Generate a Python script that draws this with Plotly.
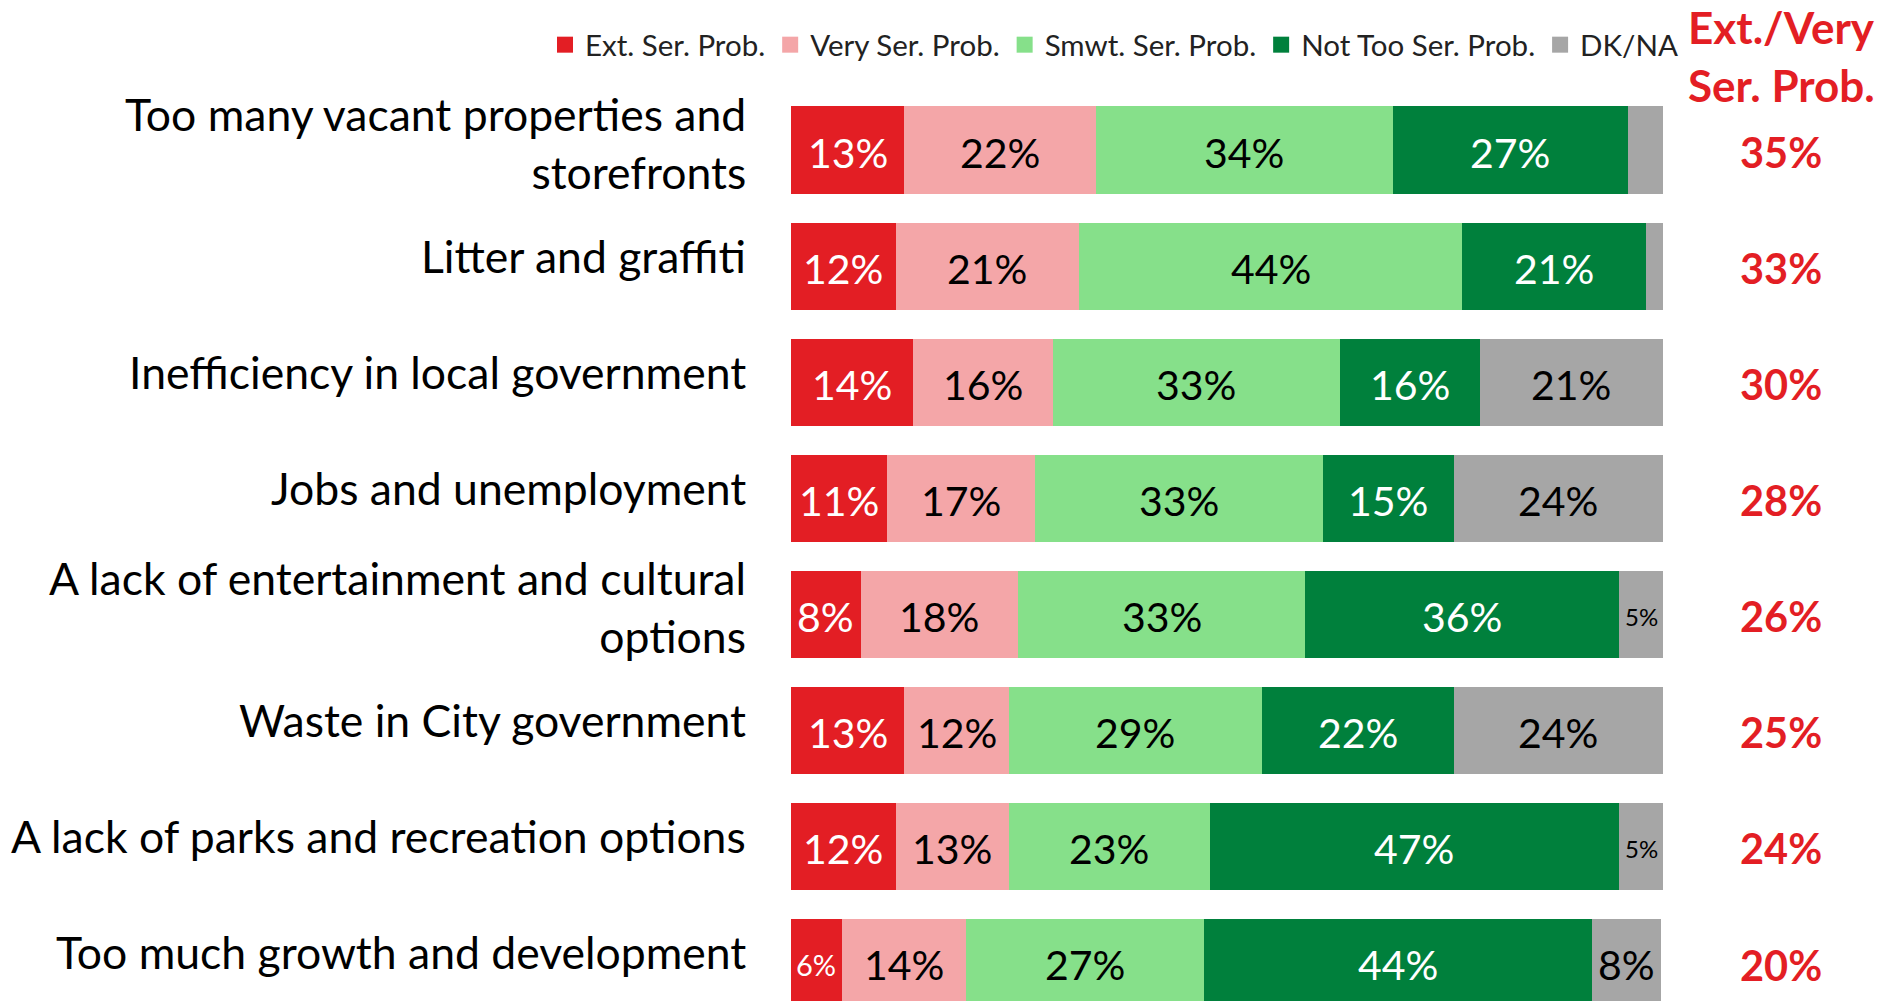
import plotly.graph_objects as go

categories = [
    "Too many vacant properties and<br>storefronts",
    "Litter and graffiti",
    "Inefficiency in local government",
    "Jobs and unemployment",
    "A lack of entertainment and cultural<br>options",
    "Waste in City government",
    "A lack of parks and recreation options",
    "Too much growth and development",
]
ext_ser = [13, 12, 14, 11, 8, 13, 12, 5.8]
very_ser = [22, 21, 16, 17, 18, 12, 13, 14.3]
smwt_ser = [34, 44, 33, 33, 33, 29, 23, 27.3]
not_too = [27, 21, 16, 15, 36, 22, 47, 44.4]
dk_na = [4, 2, 21, 24, 5, 24, 5, 8]
ext_very = [35, 33, 30, 28, 26, 25, 24, 20]

series_names = ["Ext. Ser. Prob.", "Very Ser. Prob.", "Smwt. Ser. Prob.", "Not Too Ser. Prob.", "DK/NA"]
series_values = [ext_ser, very_ser, smwt_ser, not_too, dk_na]
colors = ["#E31E24", "#F4A6A8", "#86E08A", "#00803C", "#A6A6A6"]
text_colors = ["white", "black", "black", "white", "black"]

FONT = "Lato"
W, H = 1896, 1001
row_pos = list(range(len(categories)))

fig = go.Figure()
for name, vals, col in zip(series_names, series_values, colors):
    fig.add_trace(go.Bar(
        y=row_pos, x=vals, name=name, orientation="h",
        marker=dict(color=col, line=dict(width=0)),
        width=0.75, hoverinfo="skip", showlegend=False,
    ))
# legend entries (square markers)
for name, col in zip(series_names, colors):
    fig.add_trace(go.Scatter(
        x=[None], y=[None], mode="markers", name=name,
        marker=dict(symbol="square", size=16, color=col),
        showlegend=True, hoverinfo="skip",
    ))

annotations = []
# segment labels
for i in row_pos:
    start = 0
    for s, vals in enumerate(series_values):
        v = vals[i]
        if v >= 5:
            size = 41
            if v < 6.5:
                size = 29 if s == 0 else 24
            annotations.append(dict(
                x=start + v / 2, y=i, xref="x", yref="y",
                text=f"{round(v)}%", showarrow=False,
                font=dict(family=FONT, size=size, color=text_colors[s]),
                xanchor="center", yanchor="middle", yshift=-2,
            ))
        start += v

# category labels
for i, c in enumerate(categories):
    annotations.append(dict(
        x=748 / W, y=i, xref="paper", yref="y", text=c, showarrow=False,
        xanchor="right", yanchor="middle", align="right",
        yshift=11 if "<br>" not in c else 8,
        font=dict(family=FONT, size=44.5, color="black"),
    ))

# combined column
for i, v in enumerate(ext_very):
    annotations.append(dict(
        x=1781 / W, y=i, xref="paper", yref="y", text=f"<b>{v}%</b>", showarrow=False,
        xanchor="center", yanchor="middle", yshift=-2,
        font=dict(family=FONT, size=41.5, color="#E31E24"),
    ))
for txt, ypx in [("Ext./Very", 27), ("Ser. Prob.", 85)]:
    annotations.append(dict(
        x=1781 / W, y=1 - ypx / H, xref="paper", yref="paper", text=f"<b>{txt}</b>",
        showarrow=False, xanchor="center", yanchor="middle",
        font=dict(family=FONT, size=44, color="#E31E24"),
    ))

pitch = 116.08
c0 = 150.0
fig.update_layout(
    width=W, height=H,
    margin=dict(l=0, r=0, t=0, b=0),
    paper_bgcolor="white", plot_bgcolor="white",
    barmode="stack",
    showlegend=True,
    legend=dict(
        orientation="h", x=1683 / W, xanchor="right", y=1 - 45 / H, yanchor="middle",
        font=dict(family=FONT, size=29.5, color="#222"),
        traceorder="normal", itemwidth=30, bgcolor="rgba(0,0,0,0)",
    ),
    xaxis=dict(range=[0, 100], domain=[791 / W, 1663 / W], visible=False, fixedrange=True),
    yaxis=dict(range=[(H - c0) / pitch, -c0 / pitch], visible=False, fixedrange=True),
    annotations=annotations,
    font=dict(family=FONT),
)

fig.write_html("out.html", config={"displayModeBar": False},
               post_script="document.body.style.margin='0';")
